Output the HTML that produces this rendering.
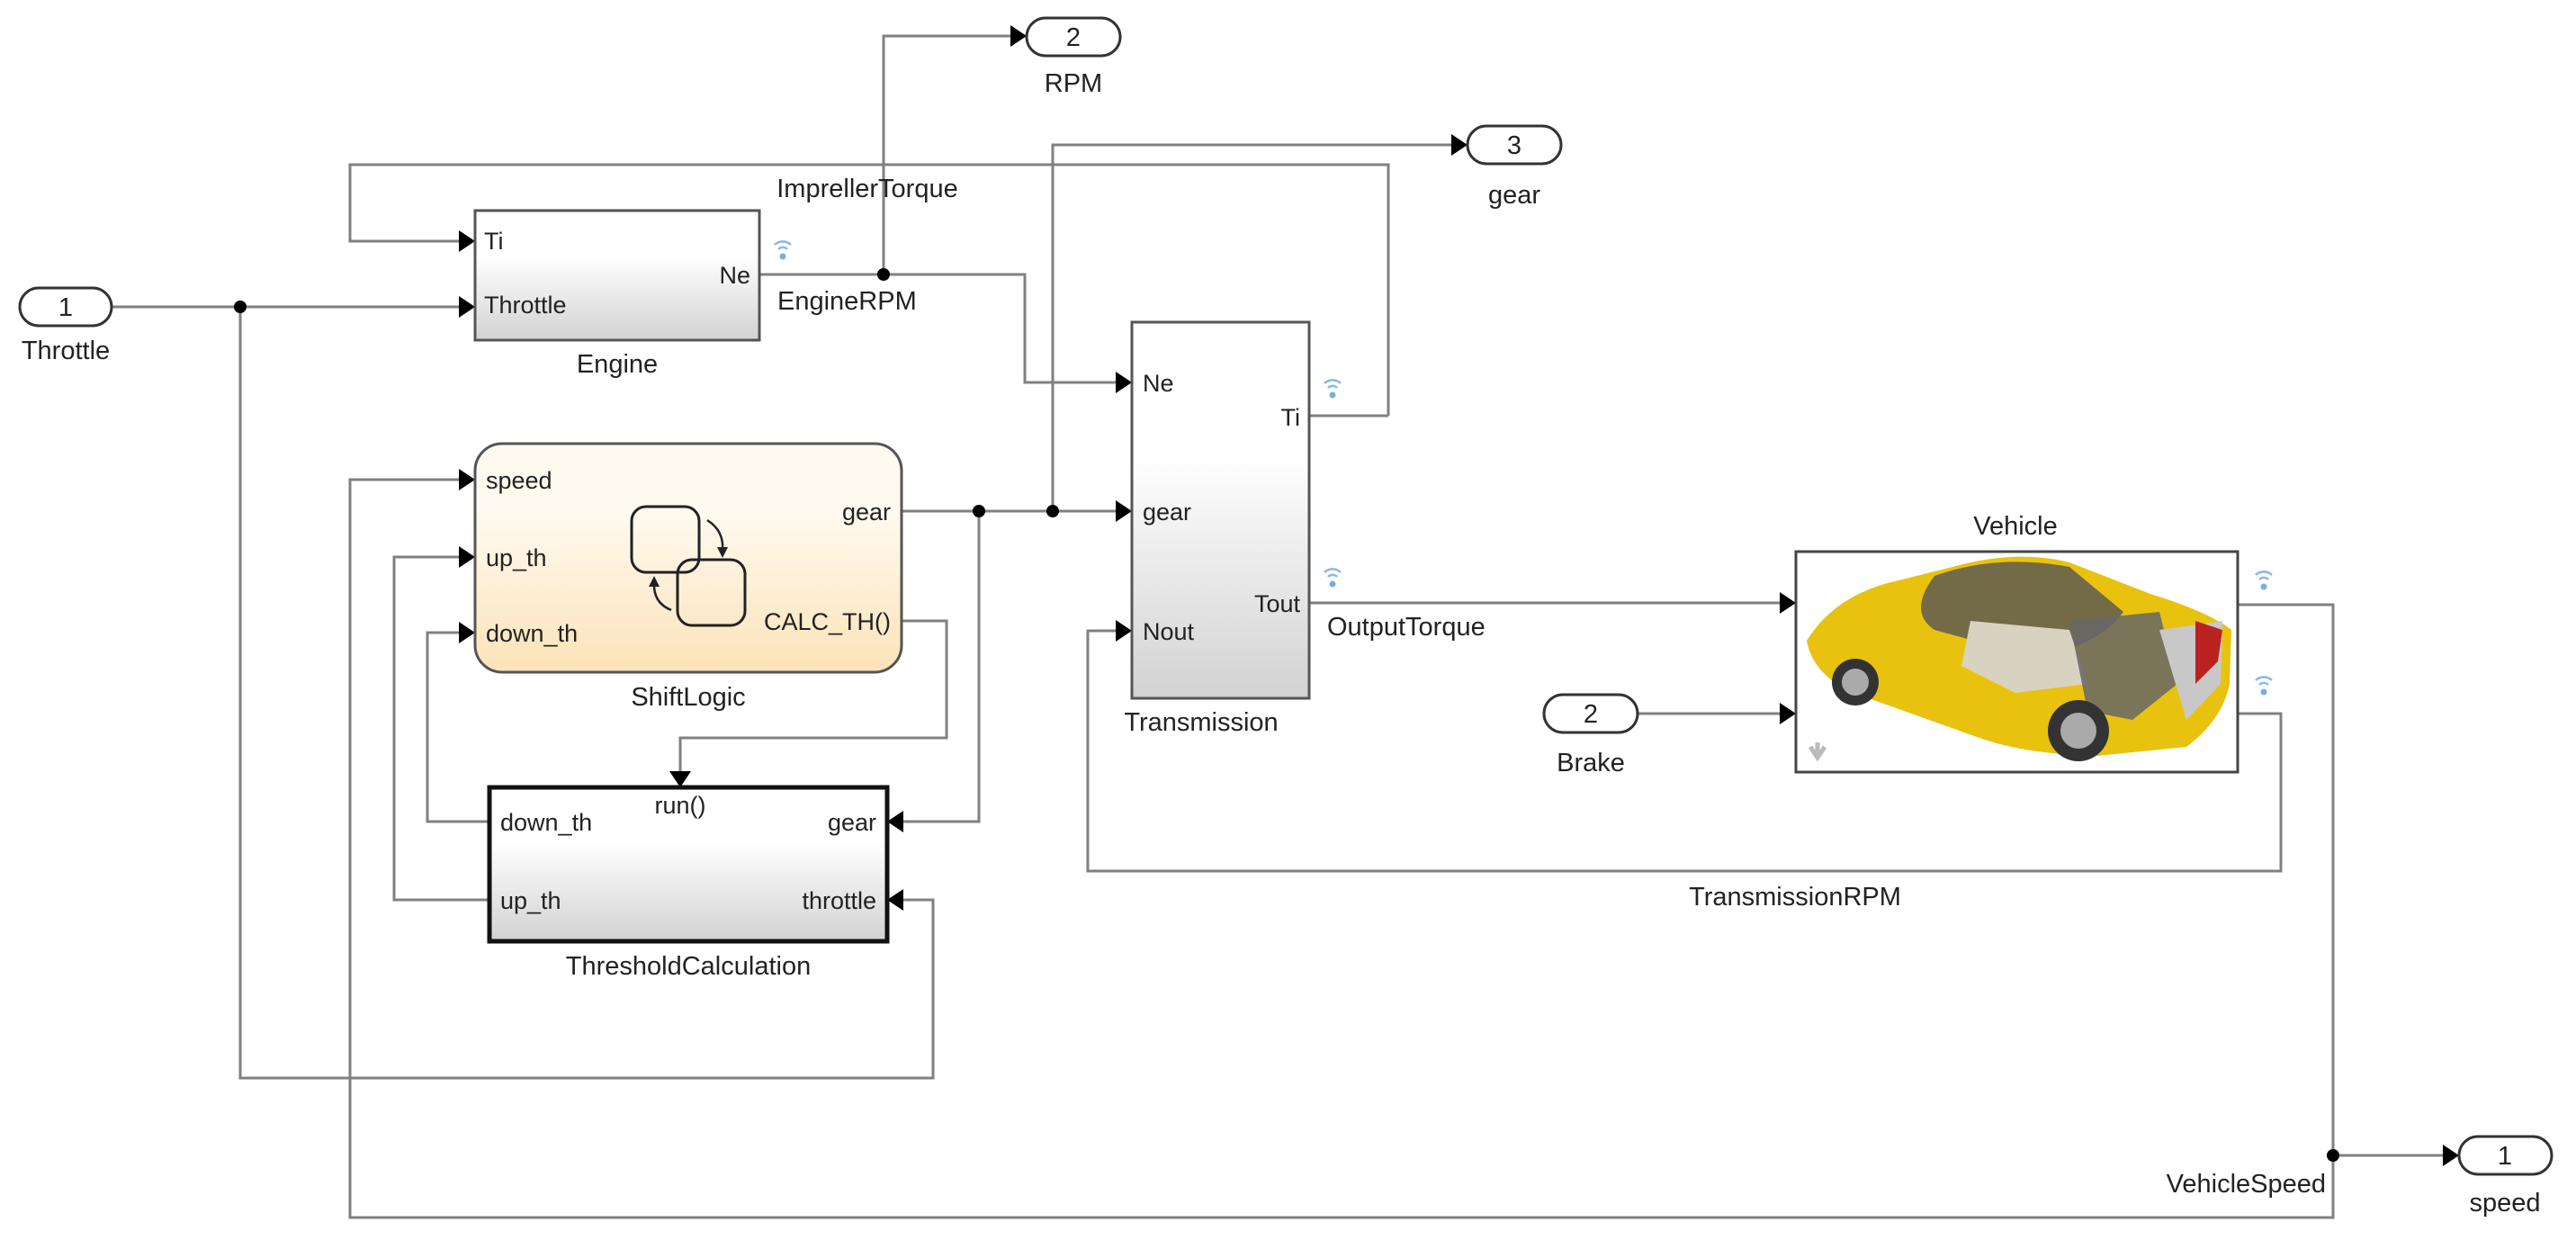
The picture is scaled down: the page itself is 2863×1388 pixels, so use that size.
<!DOCTYPE html>
<html><head><meta charset="utf-8"><style>
html,body{margin:0;padding:0;background:#fff;width:2863px;height:1388px;overflow:hidden}
svg{display:block}
text{font-family:"Liberation Sans",Arial,sans-serif;fill:#222}
.l{stroke:#808080;stroke-width:3;fill:none}
.t{font-size:29px}
.p{font-size:27px}
</style></head><body>
<svg width="2863" height="1388" viewBox="0 0 2863 1388" xmlns="http://www.w3.org/2000/svg">
<defs>
<linearGradient id="g" x1="0" y1="0" x2="0" y2="1"><stop offset="0.35" stop-color="#fff"/><stop offset="1" stop-color="#d2d2d2"/></linearGradient>
<linearGradient id="y" x1="0" y1="0" x2="0" y2="1"><stop offset="0.3" stop-color="#fffaf0"/><stop offset="1" stop-color="#fbe3b8"/></linearGradient>
<marker id="a" markerWidth="10" markerHeight="10" refX="9" refY="5" orient="auto" markerUnits="userSpaceOnUse" viewBox="0 0 10 10"><path d="M0,0 L10,5 L0,10z" fill="#000"/></marker>
<g id="w"><path d="M-9,-4 A13,13 0 0 1 9,-4" stroke="#8ab8e6" stroke-width="2.5" fill="none"/><path d="M-5,1 A7,7 0 0 1 5,1" stroke="#8ab8e6" stroke-width="2.5" fill="none"/><circle cx="0" cy="9" r="3.5" fill="#7aaee0"/></g>
</defs>
<style>.ar{marker-end:url(#a)}</style>
<g fill="none" stroke="#000">
<!-- arrowheads drawn as polygons -->
</g>

<!-- Wires -->
<path class="l" d="M124,341 H510"/>
<path class="l" d="M267,341 V1198 H1037 V1000 H1004"/>
<path class="l" d="M1543,462 H1543 V183 H389 V268 H510"/>
<path class="l" d="M844,305 H1139 V425 H1240"/>
<path class="l" d="M982,305 V40 H1123"/>
<path class="l" d="M1002,568 H1240"/>
<path class="l" d="M1170,568 V161 H1613"/>
<path class="l" d="M1088,568 V913 H1004"/>
<path class="l" d="M1455,462 H1543"/>
<path class="l" d="M1002,690 H1052 V820 H756 V857"/>
<path class="l" d="M544,913 H475 V703 H510"/>
<path class="l" d="M544,1000 H438 V619 H510"/>
<path class="l" d="M2487,672 H2593 V1353 H389 V533 H510"/>
<path class="l" d="M1455,670 H1978"/>
<path class="l" d="M1820,793 H1978"/>
<path class="l" d="M2487,793 H2535 V968 H1209 V701 H1240"/>
<path class="l" d="M2593,1284 H2715"/>

<!-- arrowheads -->
<g fill="#000">
<polygon points="510,329 528,341 510,353"/>
<polygon points="510,256 528,268 510,280"/>
<polygon points="1123,28 1141,40 1123,52"/>
<polygon points="1613,149 1631,161 1613,173"/>
<polygon points="1240,413 1258,425 1240,437"/>
<polygon points="1240,556 1258,568 1240,580"/>
<polygon points="1240,689 1258,701 1240,713"/>
<polygon points="510,521 528,533 510,545"/>
<polygon points="510,607 528,619 510,631"/>
<polygon points="510,691 528,703 510,715"/>
<polygon points="744,857 756,875 768,857"/>
<polygon points="1004,901 986,913 1004,925"/>
<polygon points="1004,988 986,1000 1004,1012"/>
<polygon points="1978,658 1996,670 1978,682"/>
<polygon points="1978,781 1996,793 1978,805"/>
<polygon points="2715,1272 2733,1284 2715,1296"/>
<circle cx="267" cy="341" r="7"/>
<circle cx="982" cy="305" r="7"/>
<circle cx="1088" cy="568" r="7"/>
<circle cx="1170" cy="568" r="7"/>
<circle cx="2593" cy="1284" r="7"/>
</g>

<!-- Inports/outports -->
<g stroke="#333" stroke-width="3" fill="#fff">
<rect x="22" y="320" width="102" height="42" rx="21"/>
<rect x="1141" y="20" width="104" height="42" rx="21"/>
<rect x="1631" y="140" width="104" height="42" rx="21"/>
<rect x="1716" y="772" width="104" height="42" rx="21"/>
<rect x="2733" y="1263" width="103" height="42" rx="21"/>
</g>
<g class="t" text-anchor="middle">
<text x="73" y="351">1</text><text x="73" y="399">Throttle</text>
<text x="1193" y="51">2</text><text x="1193" y="102">RPM</text>
<text x="1683" y="171">3</text><text x="1683" y="226">gear</text>
<text x="1768" y="803">2</text><text x="1768" y="857">Brake</text>
<text x="2784" y="1294">1</text><text x="2784" y="1346">speed</text>
</g>

<!-- Engine -->
<rect x="528" y="234" width="316" height="144" fill="url(#g)" stroke="#555" stroke-width="3"/>
<text class="p" x="538" y="277">Ti</text>
<text class="p" x="538" y="348">Throttle</text>
<text class="p" x="834" y="315" text-anchor="end">Ne</text>
<text class="t" x="686" y="414" text-anchor="middle">Engine</text>
<use href="#w" x="870" y="276"/>
<text class="t" x="964" y="219" text-anchor="middle">ImprellerTorque</text>
<text class="t" x="864" y="344">EngineRPM</text>

<!-- Transmission -->
<rect x="1258" y="358" width="197" height="418" fill="url(#g)" stroke="#555" stroke-width="3"/>
<text class="p" x="1270" y="435">Ne</text>
<text class="p" x="1270" y="578">gear</text>
<text class="p" x="1270" y="711">Nout</text>
<text class="p" x="1445" y="473" text-anchor="end">Ti</text>
<text class="p" x="1445" y="680" text-anchor="end">Tout</text>
<text class="t" x="1335" y="812" text-anchor="middle">Transmission</text>
<use href="#w" x="1481" y="430"/>
<use href="#w" x="1481" y="640"/>
<text class="t" x="1475" y="706">OutputTorque</text>

<!-- ShiftLogic -->
<rect x="528" y="493" width="474" height="254" rx="30" fill="url(#y)" stroke="#555" stroke-width="3"/>
<text class="p" x="540" y="543">speed</text>
<text class="p" x="540" y="629">up_th</text>
<text class="p" x="540" y="713">down_th</text>
<text class="p" x="990" y="578" text-anchor="end">gear</text>
<text class="p" x="990" y="700" text-anchor="end">CALC_TH()</text>
<rect x="702" y="563" width="75" height="73" rx="16" fill="none" stroke="#222" stroke-width="3"/>
<rect x="753" y="622" width="75" height="73" rx="16" fill="none" stroke="#222" stroke-width="3"/>
<path d="M786,578 Q805,590 803,612" stroke="#222" stroke-width="2.5" fill="none"/>
<polygon points="797,608 803,620 809,608" fill="#222"/>
<path d="M746,678 Q726,670 727,648" stroke="#222" stroke-width="2.5" fill="none"/>
<polygon points="721,652 727,640 733,652" fill="#222"/>
<text class="t" x="765" y="784" text-anchor="middle">ShiftLogic</text>

<!-- ThresholdCalculation -->
<rect x="544" y="875" width="442" height="171" fill="url(#g)" stroke="#111" stroke-width="5"/>
<text class="p" x="756" y="904" text-anchor="middle">run()</text>
<text class="p" x="556" y="923">down_th</text>
<text class="p" x="556" y="1010">up_th</text>
<text class="p" x="974" y="923" text-anchor="end">gear</text>
<text class="p" x="974" y="1010" text-anchor="end">throttle</text>
<text class="t" x="765" y="1083" text-anchor="middle">ThresholdCalculation</text>

<!-- Vehicle -->
<text class="t" x="2240" y="594" text-anchor="middle">Vehicle</text>
<rect x="1996" y="613" width="491" height="245" fill="#fff" stroke="#444" stroke-width="3"/>
<g>
<path d="M2008,712 Q2040,660 2110,645 L2170,630 Q2240,610 2300,625 L2390,660 Q2455,680 2480,700 L2478,760 Q2470,800 2430,830 L2330,840 Q2250,838 2200,820 L2060,770 Q2015,750 2008,712 Z" fill="#e8c20f"/>
<path d="M2150,640 Q2220,615 2300,630 L2360,680 Q2330,720 2260,730 L2150,700 Q2120,680 2150,640Z" fill="#555" opacity="0.8"/>
<path d="M2190,690 L2300,700 L2320,760 L2240,770 L2180,740Z" fill="#d8d2c0"/>
<path d="M2300,690 L2400,680 L2420,760 L2370,800 L2320,790Z" fill="#666" opacity="0.85"/>
<path d="M2400,700 L2470,690 L2468,760 L2430,800 Z" fill="#c8c8c8"/>
<path d="M2440,690 L2470,700 L2465,735 L2440,760Z" fill="#b22"/>
<circle cx="2062" cy="758" r="26" fill="#333"/><circle cx="2062" cy="758" r="15" fill="#aaa"/>
<circle cx="2310" cy="812" r="34" fill="#333"/><circle cx="2310" cy="812" r="20" fill="#aaa"/>
<path d="M2020,840 V825 M2012,830 L2020,842 L2028,830" stroke="#bbb" stroke-width="5" fill="none"/>
</g>
<use href="#w" x="2516" y="643"/>
<use href="#w" x="2516" y="760"/>

<text class="t" x="1995" y="1006" text-anchor="middle">TransmissionRPM</text>
<text class="t" x="2585" y="1325" text-anchor="end">VehicleSpeed</text>
</svg>
</body></html>
